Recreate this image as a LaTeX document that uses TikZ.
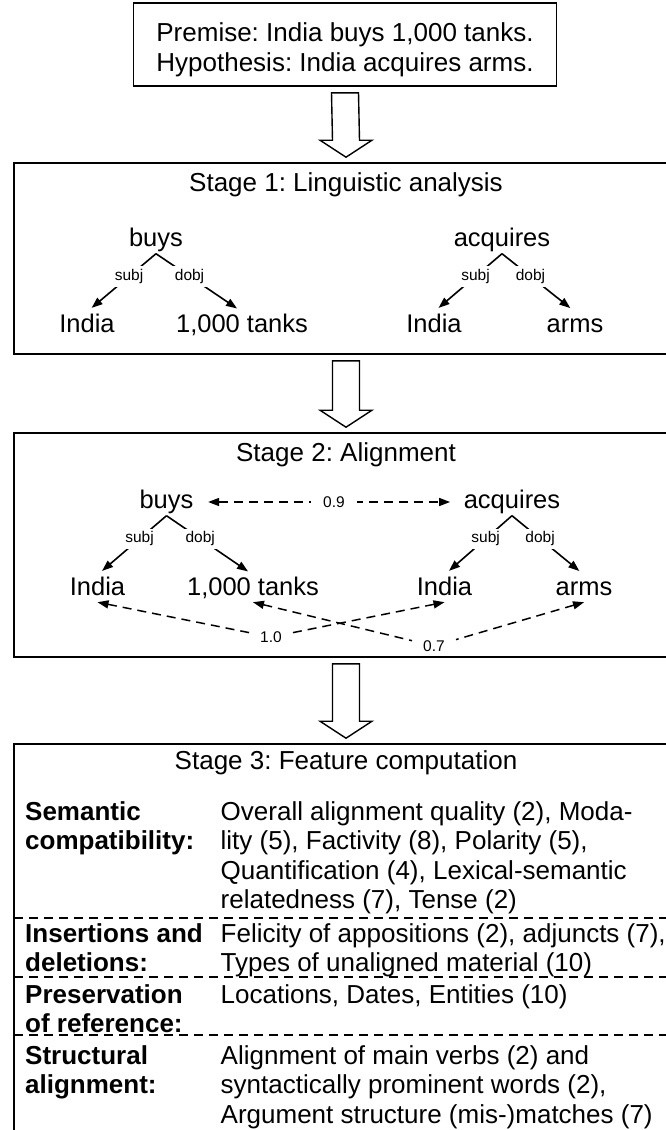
\documentclass[tikz,border=0pt]{standalone}
\usepackage{fontspec}
\setmainfont{Liberation Sans}
\usetikzlibrary{arrows.meta,calc}
\frenchspacing
\newcommand\hollowarrow[2]{%
  \draw[hollow] ($(#1.south)+(-13.5,6)$) -- ($(#1.south)+(13.5,6)$)
    -- ($(#2.north)+(13.5,-22)$) -- ($(#2.north)+(26,-22)$)
    -- ($(#2.north)+(0,-5)$) -- ($(#2.north)+(-26,-22)$)
    -- ($(#2.north)+(-13.5,-22)$) -- cycle;}
\begin{document}
\begin{tikzpicture}[x=1pt,y=-1pt,
  every node/.style={font=\fontsize{26}{29.5}\selectfont\frenchspacing},
  box/.style={draw, line width=1.6pt, inner sep=0pt},
  word/.style={font=\fontsize{25.5}{29.5}\selectfont\frenchspacing, text height=18.5pt, text depth=5.5pt, inner sep=1.5pt, anchor=base},
  lbl/.style={font=\fontsize{15.5}{18}\selectfont, fill=white, inner sep=3pt},
  dep/.style={line width=1.6pt, -{Triangle[length=11pt,width=8pt]}, shorten >=6pt},
  aln/.style={line width=1.5pt, dash pattern=on 9pt off 6pt},
  sepline/.style={line width=1.4pt, dash pattern=on 9pt off 6pt},
  hollow/.style={draw, line width=1.4pt, line join=miter, fill=white},
  cellL/.style={anchor=base west, inner sep=0pt, font=\fontsize{26}{29.5}\selectfont\bfseries\frenchspacing},
  cellR/.style={anchor=base west, inner sep=0pt}
]
\useasboundingbox (0,0) rectangle (665,1130);

% input box
\node[box, minimum width=423pt, minimum height=83pt] (top) at (345,44.5) {};
\node[anchor=base, inner sep=0pt] (toptext) at (345,41.5)
  {\begin{tabular}[t]{@{}c@{}}Premise: India buys 1,000 tanks.\\Hypothesis: India acquires arms.\end{tabular}};

% stage boxes
\node[box, minimum width=664pt, minimum height=191pt] (s1) at (346,258.5) {};
\node[box, minimum width=664pt, minimum height=224pt] (s2) at (346,545) {};
\node[box, minimum width=664pt, minimum height=406pt] (s3) at (346,947) {};

\hollowarrow{top}{s1}
\hollowarrow{s1}{s2}
\hollowarrow{s2}{s3}

% Stage 1
\node[anchor=base] (t1) at (346,191) {Stage 1: Linguistic analysis};
\node[word] (b1) at (156,246.5) {buys};
\node[word] (i1) at (87,332) {India};
\node[word] (k1) at (242,332) {1,000 tanks};
\node[word] (a1) at (502,246.5) {acquires};
\node[word] (j1) at (434,332) {India};
\node[word] (m1) at (575,332) {arms};
\draw[dep] (b1.south) -- (i1.north) node[lbl,pos=.39] (l1s) {subj};
\draw[dep] (b1.south) -- (k1.north) node[lbl,pos=.39] (l1d) {dobj};
\draw[dep] (a1.south) -- (j1.north) node[lbl,pos=.39] (l1s2) {subj};
\draw[dep] (a1.south) -- (m1.north) node[lbl,pos=.39] (l1d2) {dobj};

% Stage 2
\node[anchor=base] (t2) at (346,461) {Stage 2: Alignment};
\node[word] (b2) at (166.5,508.5) {buys};
\node[word] (i2) at (97.5,595) {India};
\node[word] (k2) at (253,595) {1,000 tanks};
\node[word] (a2) at (512,508.5) {acquires};
\node[word] (j2) at (444.5,595) {India};
\node[word] (m2) at (584,595) {arms};
\draw[dep] (b2.south) -- (i2.north) node[lbl,pos=.39] (l2s) {subj};
\draw[dep] (b2.south) -- (k2.north) node[lbl,pos=.39] (l2d) {dobj};
\draw[dep] (a2.south) -- (j2.north) node[lbl,pos=.39] (l2s2) {subj};
\draw[dep] (a2.south) -- (m2.north) node[lbl,pos=.39] (l2d2) {dobj};
\draw[aln, {Triangle[length=11pt,width=8pt]}-{Triangle[length=11pt,width=8pt]}, shorten <=13pt, shorten >=12pt]
  (b2.east) -- (a2.west) node[lbl, pos=.52, inner xsep=12pt] (w09) {0.9};
\node[lbl, inner xsep=10pt, inner ysep=2pt] (w10) at (271,637) {1.0};
\node[lbl, inner xsep=11pt, inner ysep=2pt] (w07) at (434,646) {0.7};
\draw[aln, {Triangle[length=11pt,width=8pt]}-] (i2.south) -- (w10);
\draw[aln, {Triangle[length=11pt,width=8pt]}-] (j2.south) -- (w10);
\draw[aln, {Triangle[length=11pt,width=8pt]}-] (k2.south) -- (w07);
\draw[aln, {Triangle[length=11pt,width=8pt]}-] (m2.south) -- (w07);

% Stage 3
\node[anchor=base] (t3) at (346,769) {Stage 3: Feature computation};
\node[cellL] (c1) at (25,820) {\begin{tabular}[t]{@{}l@{}}Semantic\\compatibility:\end{tabular}};
\node[cellR] (d1) at (220.5,820) {\begin{tabular}[t]{@{}l@{}}Overall alignment quality (2), Moda-\\lity (5), Factivity (8), Polarity (5),\\Quantification (4), Lexical-semantic\\relatedness (7), Tense (2)\end{tabular}};
\draw[sepline] (14,918) -- (678,918);
\node[cellL] (c2) at (25,942) {\begin{tabular}[t]{@{}l@{}}Insertions and\\deletions:\end{tabular}};
\node[cellR] (d2) at (220.5,942) {\begin{tabular}[t]{@{}l@{}}Felicity of appositions (2), adjuncts (7),\\Types of unaligned material (10)\end{tabular}};
\draw[sepline] (14,977) -- (678,977);
\node[cellL] (c3) at (25,1003) {\begin{tabular}[t]{@{}l@{}}Preservation\\of reference:\end{tabular}};
\node[cellR] (d3) at (220.5,1003) {Locations, Dates, Entities (10)};
\draw[sepline] (14,1035) -- (678,1035);
\node[cellL] (c4) at (25,1064) {\begin{tabular}[t]{@{}l@{}}Structural\\alignment:\end{tabular}};
\node[cellR] (d4) at (220.5,1064) {\begin{tabular}[t]{@{}l@{}}Alignment of main verbs (2) and\\syntactically prominent words (2),\\Argument structure (mis-)matches (7)\end{tabular}};
\end{tikzpicture}
\end{document}
